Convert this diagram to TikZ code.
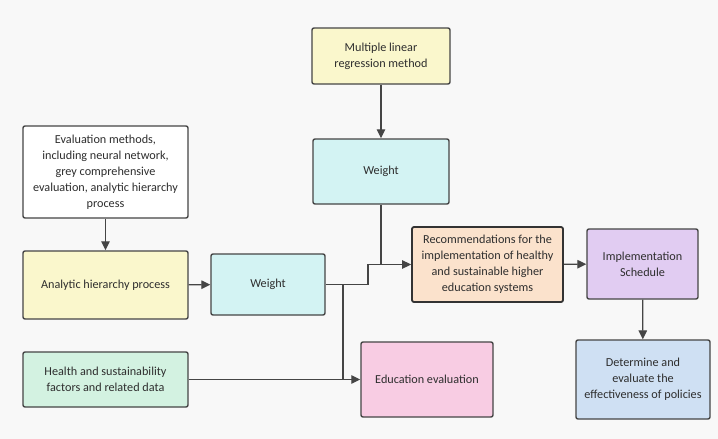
\documentclass[tikz,border=0pt]{standalone}
\usepackage{fontspec}
\setmainfont{Carlito}
\usetikzlibrary{arrows.meta}
\definecolor{bg}{HTML}{F8F8F8}
\definecolor{cyel}{HTML}{FAF7CC}
\definecolor{ccyan}{HTML}{D3F3F3}
\definecolor{cpeach}{HTML}{FBE2CC}
\definecolor{cpurple}{HTML}{E1CCF2}
\definecolor{cpink}{HTML}{F8CCE3}
\definecolor{cblue}{HTML}{CFE0F3}
\definecolor{cgreen}{HTML}{D3F2E1}
\definecolor{edge}{HTML}{454545}
\definecolor{txt}{HTML}{2E2E2E}
\tikzset{
  box/.style={draw=edge, line width=1.4pt, rounded corners=2pt, align=center,
    text=txt, font=\fontsize{12.2}{16}\selectfont, inner sep=2pt},
  conn/.style={draw=edge, line width=1.3pt},
  arr/.style={conn, -{Triangle[length=9pt,width=8.5pt]}}
}
\begin{document}
\begin{tikzpicture}[x=1pt,y=-1pt]
\fill[bg] (0,0) rectangle (718,439);
\useasboundingbox (0,0) rectangle (718,439);

\node[box, fill=cyel, minimum width=138pt, minimum height=56pt] (mlr) at (381,56) {Multiple linear\\regression method};
\node[box, fill=ccyan, minimum width=136pt, minimum height=65pt] (w2) at (381,171.5) {Weight};
\node[box, fill=white, minimum width=165pt, minimum height=92pt] (eval) at (105.5,172) {Evaluation methods,\\including neural network,\\grey comprehensive\\evaluation, analytic hierarchy\\process};
\node[box, fill=cyel, minimum width=165pt, minimum height=68pt] (ahp) at (105.5,285) {Analytic hierarchy process};
\node[box, fill=ccyan, minimum width=114pt, minimum height=61pt] (w1) at (268,284.5) {Weight};
\node[box, fill=cgreen, minimum width=165pt, minimum height=55pt] (health) at (105.5,379.5) {Health and sustainability\\factors and related data};
\node[box, fill=cpink, minimum width=132pt, minimum height=75pt] (edu) at (427,379.5) {Education evaluation};
\node[box, fill=cpeach, draw=black!80, line width=1.8pt, minimum width=151pt, minimum height=75pt] (rec) at (487.5,264.5) {Recommendations for the\\implementation of healthy\\and sustainable higher\\education systems};
\node[box, fill=cpurple, minimum width=111pt, minimum height=70pt] (impl) at (642.5,264) {Implementation\\Schedule};
\node[box, fill=cblue, minimum width=134pt, minimum height=79pt] (det) at (643,379.5) {Determine and\\evaluate the\\effectiveness of policies};

\coordinate (j1) at (368,284.5);
\coordinate (j2) at (368,264.5);
\coordinate (jw) at (381,264.5);
\coordinate (jv) at (343,284.5);
\coordinate (jh) at (343,379.5);

\draw[arr] (eval) -- (ahp);
\draw[arr] (ahp) -- (w1);
\draw[arr] (mlr) -- (w2);
\draw[arr] (w1.east) -- (j1) -- (j2) -- (rec.west);
\draw[conn] (w2.south) -- (jw);
\draw[conn] (jv) -- (jh);
\draw[arr] (health) -- (edu);
\draw[arr] (rec) -- (impl);
\draw[arr] (impl) -- (det);
\end{tikzpicture}
\end{document}
